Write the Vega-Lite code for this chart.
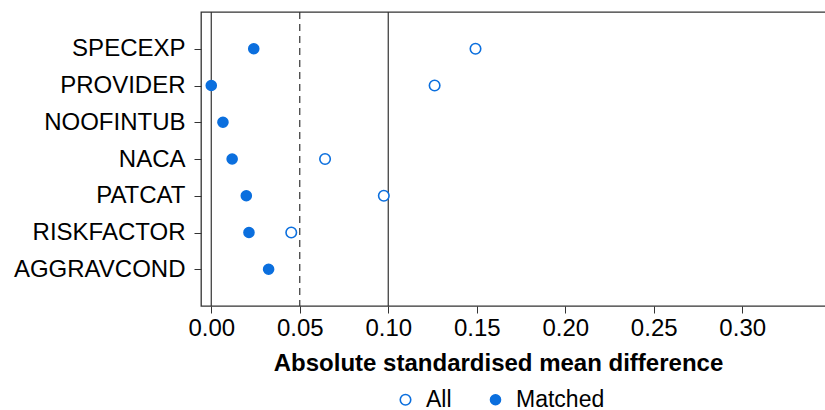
{
  "$schema": "https://vega.github.io/schema/vega-lite/v6.json",
  "autosize": "none",
  "padding": {"left": 201, "top": 12, "right": 0, "bottom": 104},
  "width": 626,
  "height": 294,
  "background": "white",
  "config": {
    "font": "Liberation Sans",
    "view": {"stroke": "#333333", "strokeWidth": 1.3}
  },
  "datasets": {
    "smd": [
      {"variable": "SPECEXP", "sample": "All", "smd": 0.1493},
      {"variable": "PROVIDER", "sample": "All", "smd": 0.1262},
      {"variable": "NACA", "sample": "All", "smd": 0.0643},
      {"variable": "PATCAT", "sample": "All", "smd": 0.0975},
      {"variable": "RISKFACTOR", "sample": "All", "smd": 0.0452},
      {"variable": "SPECEXP", "sample": "Matched", "smd": 0.024},
      {"variable": "PROVIDER", "sample": "Matched", "smd": 0.0},
      {"variable": "NOOFINTUB", "sample": "Matched", "smd": 0.0066},
      {"variable": "NACA", "sample": "Matched", "smd": 0.0118},
      {"variable": "PATCAT", "sample": "Matched", "smd": 0.0198},
      {"variable": "RISKFACTOR", "sample": "Matched", "smd": 0.0213},
      {"variable": "AGGRAVCOND", "sample": "Matched", "smd": 0.0324}
    ],
    "refs": [
      {"ref": 0, "style": "solid"},
      {"ref": 0.05, "style": "dashed"},
      {"ref": 0.1, "style": "solid"}
    ]
  },
  "layer": [
    {
      "data": {"name": "refs"},
      "mark": {"type": "rule", "color": "#333333", "strokeWidth": 1.2},
      "encoding": {
        "x": {"field": "ref", "type": "quantitative", "scale": {"domain": [-0.0058, 0.3479], "nice": false, "zero": false}},
        "strokeDash": {"field": "style", "type": "nominal", "scale": {"domain": ["solid", "dashed"], "range": [[1, 0], [7, 5]]}, "legend": null}
      }
    },
    {
      "data": {"name": "smd"},
      "mark": {"type": "point", "shape": "circle", "filled": true, "strokeWidth": 1.6, "color": "#0b6fde", "opacity": 1},
      "encoding": {
        "x": {
          "field": "smd", "type": "quantitative",
          "scale": {"domain": [-0.0058, 0.3479], "nice": false, "zero": false},
          "axis": {
            "values": [0, 0.05, 0.1, 0.15, 0.2, 0.25, 0.3],
            "format": ".2f",
            "grid": false,
            "domain": false,
            "tickSize": 7,
            "tickColor": "#333333",
            "labelFontSize": 24,
            "labelColor": "#000000",
            "labelPadding": 3,
            "title": "Absolute standardised mean difference",
            "titleFontSize": 24,
            "titleFontWeight": "bold",
            "titleColor": "#000000",
            "titleX": 297,
            "titleY": 64,
            "titleBaseline": "alphabetic"
          }
        },
        "y": {
          "field": "variable", "type": "nominal",
          "sort": ["SPECEXP", "PROVIDER", "NOOFINTUB", "NACA", "PATCAT", "RISKFACTOR", "AGGRAVCOND"],
          "scale": {"type": "point", "padding": 1.04},
          "axis": {
            "title": null,
            "grid": false,
            "domain": false,
            "tickSize": 7,
            "tickColor": "#333333",
            "labelFontSize": 24,
            "labelColor": "#000000",
            "labelPadding": 9
          }
        },
        "fill": {
          "field": "sample", "type": "nominal",
          "scale": {"domain": ["All", "Matched"], "range": ["#ffffff", "#0b6fde"]},
          "legend": {
            "title": null,
            "orient": "none",
            "direction": "horizontal",
            "legendX": 193,
            "legendY": 376,
            "labelFontSize": 23,
            "labelColor": "#000000",
            "labelOffset": 9,
            "columnPadding": 32,
            "symbolStrokeColor": "#0b6fde",
            "symbolStrokeWidth": 1.6,
            "symbolType": "circle"
          }
        },
        "size": {
          "field": "sample", "type": "nominal",
          "scale": {"domain": ["All", "Matched"], "range": [110, 100]}
        },
        "stroke": {"value": "#0b6fde"}
      }
    }
  ]
}
